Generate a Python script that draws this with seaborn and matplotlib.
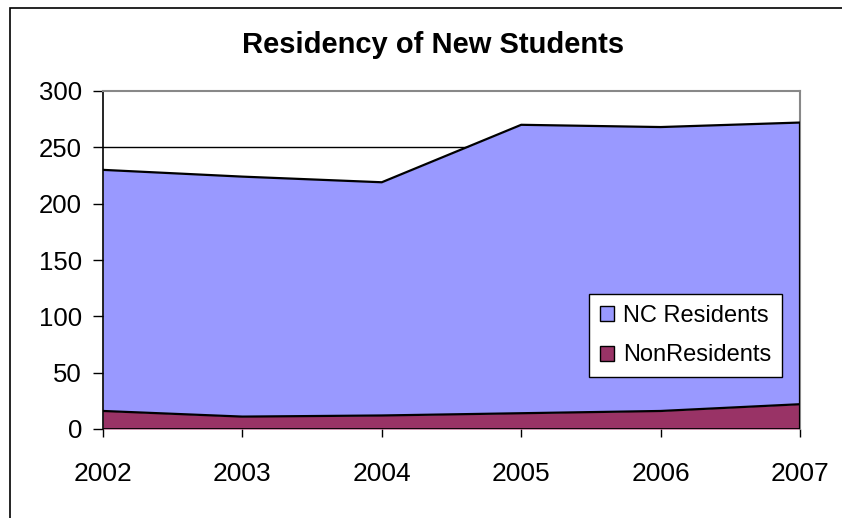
import matplotlib
matplotlib.use("Agg")
import matplotlib.pyplot as plt
import seaborn as sns
import numpy as np
import pandas as pd
from matplotlib.patches import Rectangle, Patch

years = ["2002", "2003", "2004", "2005", "2006", "2007"]
nonresidents = [16, 11, 12, 14, 16, 22]
nc_residents = [214, 213, 207, 256, 252, 250]
y_ticks = [0, 50, 100, 150, 200, 250, 300]

sns.set_theme(style="white", rc={"text.color": "black", "xtick.color": "black",
                                 "ytick.color": "black", "axes.labelcolor": "black"})
plt.rcParams["font.family"] = ["Liberation Sans", "DejaVu Sans"]

W, H = 842, 518
fig = plt.figure(figsize=(W / 100, H / 100), dpi=100)
ax = fig.add_axes([103 / W, (H - 429) / H, (800 - 103) / W, (429 - 91) / H])

x = np.arange(len(years))
nonres = np.array(nonresidents, dtype=float)
total = nonres + np.array(nc_residents, dtype=float)

# gridlines behind areas
for yt in y_ticks[1:-1]:
    ax.axhline(yt, color="black", lw=1.0, zorder=0)

ax.fill_between(x, 0, nonres, color="#993366", lw=0, zorder=1)
ax.fill_between(x, nonres, total, color="#9999FF", lw=0, zorder=1)

df = pd.DataFrame({"Year": x, "Non": nonres, "Total": total})
sns.lineplot(data=df, x="Year", y="Total", color="black", lw=1.6, ax=ax, zorder=3)
sns.lineplot(data=df, x="Year", y="Non", color="black", lw=1.6, ax=ax, zorder=3)
ax.axhline(0, color="black", lw=2.0, zorder=3)
ax.plot([x[-1], x[-1]], [0, total[-1]], color="black", lw=1.6, zorder=3)

ax.set_xlim(0, len(years) - 1)
ax.set_ylim(0, 300)
ax.set_xticks(x)
ax.set_xticklabels(years, fontsize=19)
ax.set_yticks(y_ticks)
ax.set_yticklabels([str(v) for v in y_ticks], fontsize=18.5)
ax.set_xlabel("")
ax.set_ylabel("")
ax.tick_params(axis="x", direction="out", length=6, width=1, color="black", pad=18, bottom=True)
ax.tick_params(axis="y", direction="out", length=7, width=1, color="black", pad=8, left=True)

for side in ["top", "right"]:
    ax.spines[side].set_color("#888888")
    ax.spines[side].set_linewidth(1.5)
ax.spines["left"].set_color("black")
ax.spines["left"].set_linewidth(1.2)
ax.spines["bottom"].set_visible(False)

handles = [Patch(facecolor="#9999FF", edgecolor="black", label="NC Residents"),
           Patch(facecolor="#993366", edgecolor="black", label="NonResidents")]
leg = ax.legend(handles=handles, loc="upper left", bbox_to_anchor=((589 - 103) / 697, (429 - 294) / 338),
                fontsize=17, frameon=True, fancybox=False, framealpha=1, edgecolor="black",
                handlelength=0.6, handleheight=0.6, handletextpad=0.4, labelspacing=0.75,
                borderpad=0.45, borderaxespad=0)
leg.get_frame().set_linewidth(1.0)

fig.text(433 / W, 1 - 45 / H, "Residency of New Students", ha="center", va="center",
         fontsize=21, fontweight="bold")

fig.patches.append(Rectangle((10 / W, -0.1), 1.2, 1 - 8 / H + 0.1, transform=fig.transFigure,
                             fill=False, edgecolor="black", lw=1.2))

fig.savefig("out.png", dpi=100)
